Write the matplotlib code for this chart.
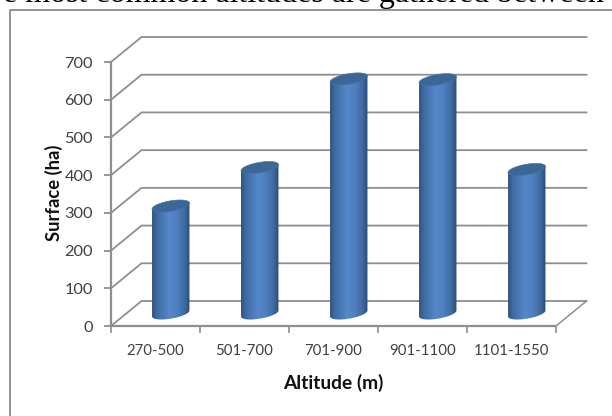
import numpy as np
import matplotlib
matplotlib.use("Agg")
import matplotlib.pyplot as plt
from matplotlib.colors import LinearSegmentedColormap
from matplotlib.patches import PathPatch, Polygon
from matplotlib.path import Path

categorias = ["270-500", "501-700", "701-900", "901-1100", "1101-1550"]
superficie = [285, 387, 622, 620, 382]
ticks_y = [0, 100, 200, 300, 400, 500, 600, 700]

plt.rcParams["font.family"] = ["Lato", "DejaVu Sans"]

W, H = 612, 416
fig = plt.figure(figsize=(W / 100, H / 100), dpi=100)

# plano frontal del grafico 3D, en pixeles de la imagen
x0, x1, y_top, y_bot = 111, 556, 62, 326
ax = fig.add_axes([x0 / W, 1 - y_bot / H, (x1 - x0) / W, (y_bot - y_top) / H])
ax.set_xlim(0, len(categorias))
ax.set_ylim(0, 700)
ax.set_zorder(2)
ax.patch.set_visible(False)
for s in ax.spines.values():
    s.set_visible(False)

px = len(categorias) / (x1 - x0)
py = 700 / (y_bot - y_top)
dx = 30.5 * px
dy = 25 * py
gris = "#8f8f8f"

# paredes
for v in ticks_y:
    ax.plot([0, dx, len(categorias) + dx], [v, v + dy, v + dy], color=gris, lw=1.3,
            solid_joinstyle="miter", clip_on=False, zorder=1)
ax.plot([len(categorias), len(categorias) + dx], [0, dy], color=gris, lw=1.1, clip_on=False, zorder=1)
ax.plot([0, len(categorias)], [0, 0], color=gris, lw=1.6, clip_on=False, zorder=1)
ax.plot([0, 0], [0, 700], color=gris, lw=1.6, clip_on=False, zorder=1)

# cilindros
cmap = LinearSegmentedColormap.from_list("cil", [
    (0.0, "#31507c"), (0.12, "#3f6aa3"), (0.45, "#5488c9"), (0.62, "#5082c2"),
    (0.85, "#3f6ca4"), (1.0, "#2d4a72")])
grad = np.linspace(0, 1, 256).reshape(1, -1)
a = 18.7 * px
b = 5.2 * py
sesgo = 3.0 * py
t = np.linspace(0, 2 * np.pi, 80)

for i, v in enumerate(superficie):
    cx = i + 0.5 + dx / 2
    cy = dy / 2
    # silueta del cuerpo: borde inferior + borde superior
    tb = np.linspace(np.pi, 2 * np.pi, 40)
    xb = cx + a * np.cos(tb)
    yb = cy + b * np.sin(tb) + sesgo * np.cos(tb)
    xt = xb[::-1]
    yt = cy + v + sesgo * np.cos(tb[::-1])
    pts = np.vstack([np.column_stack([xb, yb]), np.column_stack([xt, yt])])
    im = ax.imshow(grad, extent=[cx - a, cx + a, -20, 720], cmap=cmap, aspect="auto",
                   interpolation="bilinear", zorder=3)
    clip = PathPatch(Path(np.vstack([pts, pts[0]])), transform=ax.transData, fc="none", ec="none")
    ax.add_patch(clip)
    im.set_clip_path(clip)
    tapa = Polygon(np.column_stack([cx + a * np.cos(t),
                                    cy + v + b * np.sin(t) + sesgo * np.cos(t)]),
                   closed=True, fc="#3c6698", ec="#46729f", lw=0.5, zorder=4, clip_on=False)
    ax.add_patch(tapa)

ax.set_xlim(0, len(categorias))
ax.set_ylim(0, 700)

# ejes
ax.set_yticks(ticks_y)
ax.set_xticks(range(len(categorias) + 1))
ax.set_xticklabels([])
ax.set_xticks(np.arange(len(categorias)) + 0.5, categorias, minor=True)
ax.tick_params(axis="y", length=5, width=1.3, color=gris, labelsize=11.8, labelcolor="#404040", pad=8)
ax.tick_params(axis="x", which="major", length=5, width=1.2, color=gris)
ax.tick_params(axis="x", which="minor", length=0, labelsize=10.8, labelcolor="#404040", pad=13)

fig.text(333 / W, 1 - 383 / H, "Altitude (m)", ha="center", va="center", fontsize=13.8, fontweight="bold", color="#111111")
fig.text(54 / W, 1 - 193 / H, "Surface (ha)", ha="center", va="center", rotation=90, fontsize=13.2, fontweight="bold", color="#111111")

# marco y texto cortado del documento original
fig.add_artist(plt.Line2D([9.5 / W, 9.5 / W, 1], [0, 1 - 10 / H, 1 - 10 / H], color="#8a8a8a", lw=1.3))
fig.text(3 / W, 1 - 2 / H, "e most common altitudes are gathered between", family="Liberation Serif",
         fontsize=23, ha="left", va="baseline", color="black")

fig.savefig("out.png", dpi=100)
